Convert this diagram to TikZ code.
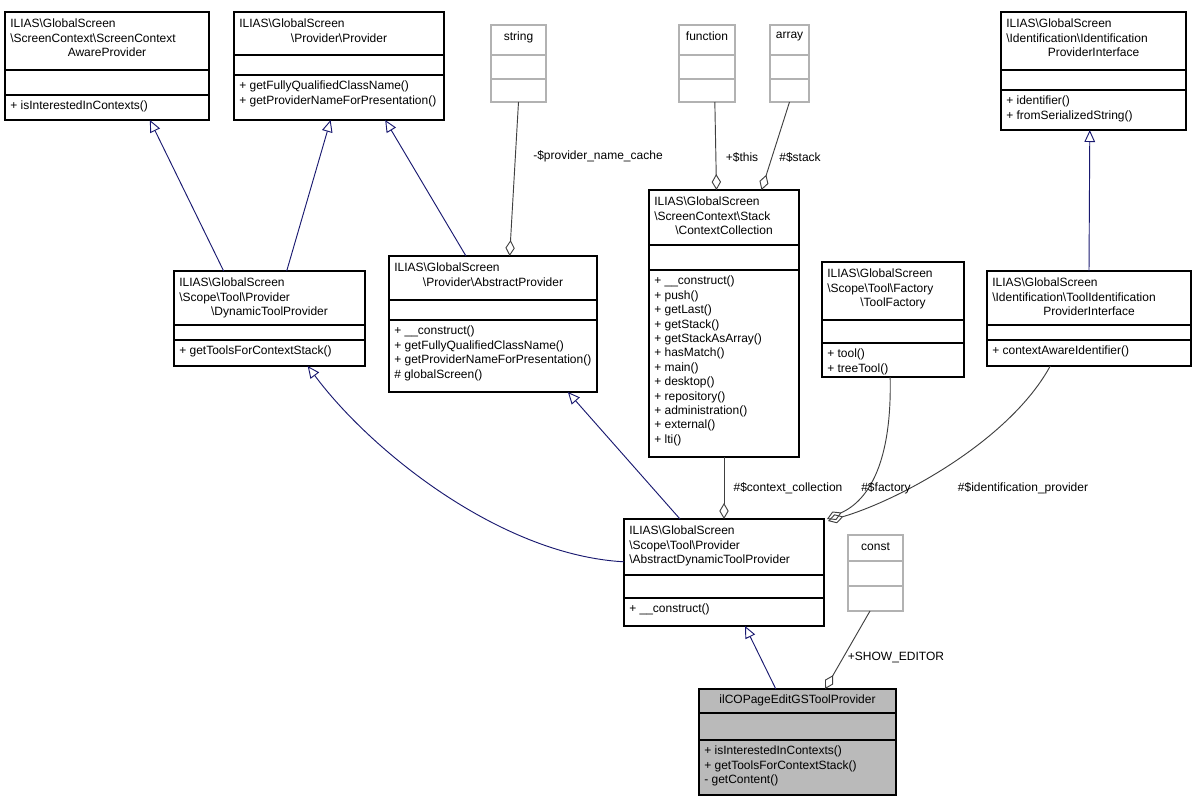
\documentclass[tikz,border=0pt]{standalone}
\usepackage{fontspec}
\setmainfont{Liberation Sans}
\usetikzlibrary{arrows.meta,calc}
\newcommand\bsl{\textbackslash}
% class box: name, x1, y1, x2, y2, first divider, second divider, style
\newcommand\umlclass[8]{%
  \node[#8, minimum width={(#4-#2)*0.75pt}, minimum height={(#5-#3)*0.75pt}] (#1) at ({(#2+#4)/2},{(#3+#5)/2}) {};
  \draw[#8, fill=none] (#2,#6) -- (#4,#6) (#2,#7) -- (#4,#7);
}
\tikzset{
  cls/.style={draw=black, fill=white, line width=0.8pt, inner sep=0pt, outer sep=0pt},
  gcls/.style={cls, draw=black!30},
  hcls/.style={cls, fill=black!27},
  txt/.style={font=\fontsize{9}{10.8}\selectfont, inner sep=0pt, align=left, anchor=north west},
  ctxt/.style={txt, anchor=north, align=center},
  lbl/.style={font=\fontsize{9}{10.8}\selectfont, inner sep=1pt},
  inherit/.style={draw={rgb,255:red,25;green,25;blue,112}, line width=0.7pt, -{Triangle[open,length=9pt,width=8pt]}},
  aggr/.style={draw=black!75, line width=0.7pt, -{Diamond[open,length=12pt,width=7pt]}},
}
\begin{document}
\begin{tikzpicture}[x=0.75pt,y=-0.75pt]
  \useasboundingbox (0,0) rectangle (1197,801);

  % classes
  \umlclass{sca}{5}{12}{209}{120}{70}{95}{cls}
  \node[txt] (sca-t) at (10,19) {ILIAS\bsl GlobalScreen\\\bsl ScreenContext\bsl ScreenContext};
  \node[ctxt] (sca-c) at (107,47.8) {AwareProvider};
  \node[txt] (sca-m) at (10,101) {+ isInterestedInContexts()};

  \umlclass{prov}{234}{12}{444}{120}{55}{75}{cls}
  \node[txt] (prov-t) at (239,19) {ILIAS\bsl GlobalScreen};
  \node[ctxt] (prov-c) at (339,33.4) {\bsl Provider\bsl Provider};
  \node[txt] (prov-m) at (239,81) {+ getFullyQualifiedClassName()\\+ getProviderNameForPresentation()};

  \umlclass{string}{491}{25}{546}{102}{55}{79}{gcls}
  \node[ctxt] (string-t) at (518.5,32) {string};
  \umlclass{function}{679}{25}{735}{102}{55}{79}{gcls}
  \node[ctxt] (function-t) at (707,32) {function};
  \umlclass{array}{770}{25}{809}{102}{55}{79}{gcls}
  \node[ctxt] (array-t) at (789.5,32) {array};

  \umlclass{idint}{1001}{12}{1186}{130}{70}{90}{cls}
  \node[txt] (idint-t) at (1006,19) {ILIAS\bsl GlobalScreen\\\bsl Identification\bsl Identification};
  \node[ctxt] (idint-c) at (1093.5,47.8) {ProviderInterface};
  \node[txt] (idint-m) at (1006,96) {+ identifier()\\+ fromSerializedString()};

  \umlclass{dyn}{174}{271}{365}{366}{325}{340}{cls}
  \node[txt] (dyn-t) at (179,278) {ILIAS\bsl GlobalScreen\\\bsl Scope\bsl Tool\bsl Provider};
  \node[ctxt] (dyn-c) at (269.5,306.8) {\bsl DynamicToolProvider};
  \node[txt] (dyn-m) at (179,346) {+ getToolsForContextStack()};

  \umlclass{absprov}{389}{256}{597}{392}{300}{320}{cls}
  \node[txt] (absprov-t) at (394,263) {ILIAS\bsl GlobalScreen};
  \node[ctxt] (absprov-c) at (493,277.4) {\bsl Provider\bsl AbstractProvider};
  \node[txt] (absprov-m) at (394,326) {+ \_\_construct()\\+ getFullyQualifiedClassName()\\+ getProviderNameForPresentation()\\\# globalScreen()};

  \umlclass{ctx}{649}{190}{799}{457}{245}{270}{cls}
  \node[txt] (ctx-t) at (654,197) {ILIAS\bsl GlobalScreen\\\bsl ScreenContext\bsl Stack};
  \node[ctxt] (ctx-c) at (724,225.8) {\bsl ContextCollection};
  \node[txt] (ctx-m) at (654,276) {+ \_\_construct()\\+ push()\\+ getLast()\\+ getStack()\\+ getStackAsArray()\\+ hasMatch()\\+ main()\\+ desktop()\\+ repository()\\+ administration()\\+ external()\\+ lti()};

  \umlclass{fac}{822}{262}{964}{377}{320}{343}{cls}
  \node[txt] (fac-t) at (827,269) {ILIAS\bsl GlobalScreen\\\bsl Scope\bsl Tool\bsl Factory};
  \node[ctxt] (fac-c) at (893,297.8) {\bsl ToolFactory};
  \node[txt] (fac-m) at (827,349) {+ tool()\\+ treeTool()};

  \umlclass{tid}{987}{271}{1191}{366}{325}{340}{cls}
  \node[txt] (tid-t) at (992,278) {ILIAS\bsl GlobalScreen\\\bsl Identification\bsl ToolIdentification};
  \node[ctxt] (tid-c) at (1089,306.8) {ProviderInterface};
  \node[txt] (tid-m) at (992,346) {+ contextAwareIdentifier()};

  \umlclass{adtp}{624}{519}{824}{626}{575}{598}{cls}
  \node[txt] (adtp-t) at (629,526) {ILIAS\bsl GlobalScreen\\\bsl Scope\bsl Tool\bsl Provider\\\bsl AbstractDynamicToolProvider};
  \node[txt] (adtp-m) at (629,604) {+ \_\_construct()};

  \umlclass{const}{848}{535}{903}{611}{561}{586}{gcls}
  \node[ctxt] (const-t) at (875.5,542) {const};

  \umlclass{ilco}{699}{689}{896}{795}{713}{740}{hcls}
  \node[ctxt] (ilco-t) at (797.5,695) {ilCOPageEditGSToolProvider};
  \node[txt] (ilco-m) at (704,746) {+ isInterestedInContexts()\\+ getToolsForContextStack()\\- getContent()};

  % generalisations
  \draw[inherit] ($(dyn.north west)!0.26!(dyn.north east)$) -- ($(sca.south west)!0.71!(sca.south east)$);
  \draw[inherit] ($(dyn.north west)!0.59!(dyn.north east)$) -- ($(prov.south west)!0.46!(prov.south east)$);
  \draw[inherit] ($(absprov.north west)!0.37!(absprov.north east)$) -- ($(prov.south west)!0.72!(prov.south east)$);
  \draw[inherit] ($(tid.north west)!0.5!(tid.north east)$) -- ($(idint.south west)!0.48!(idint.south east)$);
  \draw[inherit] ($(adtp.north west)!0.4!(adtp.south west)$) .. controls (500,555) and (370,450) .. ($(dyn.south west)!0.7!(dyn.south east)$);
  \draw[inherit] ($(adtp.north west)!0.28!(adtp.north east)$) -- ($(absprov.south west)!0.86!(absprov.south east)$);
  \draw[inherit] ($(ilco.north west)!0.39!(ilco.north east)$) -- ($(adtp.south west)!0.605!(adtp.south east)$);

  % aggregations
  \draw[aggr] (string.south) -- ($(absprov.north west)!0.58!(absprov.north east)$);
  \draw[aggr] ($(function.south west)!0.64!(function.south east)$) -- ($(ctx.north west)!0.45!(ctx.north east)$);
  \draw[aggr] (array.south) -- ($(ctx.north west)!0.75!(ctx.north east)$);
  \draw[aggr] (ctx.south) -- (adtp.north);
  \draw[aggr] ($(fac.south west)!0.48!(fac.south east)$) .. controls (892,460) and (870,500) .. ($(adtp.north east)+(3,0)$);
  \draw[aggr] ($(tid.south west)!0.31!(tid.south east)$) .. controls (1010,440) and (900,500) .. ($(adtp.north east)+(4,2)$);
  \draw[aggr] ($(const.south west)!0.4!(const.south east)$) -- ($(ilco.north west)!0.64!(ilco.north east)$);

  \node[lbl] (l-cache) at (598,156) {-\$provider\_name\_cache};
  \node[lbl] (l-this) at (742,157) {+\$this};
  \node[lbl] (l-stack) at (800,157) {\#\$stack};
  \node[lbl] (l-cc) at (788,488) {\#\$context\_collection};
  \node[lbl] (l-fac) at (886,488) {\#\$factory};
  \node[lbl] (l-idp) at (1023,488) {\#\$identification\_provider};
  \node[lbl] (l-show) at (896,657) {+SHOW\_EDITOR};
\end{tikzpicture}
\end{document}
